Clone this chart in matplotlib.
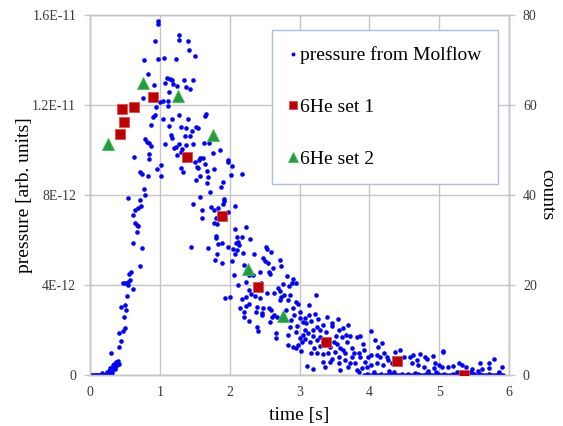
import matplotlib
matplotlib.use("Agg")
import matplotlib.pyplot as plt

plt.rcParams['font.family'] = ['Liberation Serif', 'DejaVu Serif']

# ---- Molflow pressure scatter (time [s], pressure in units of 1e-12) ----
molflow_t = [
    # baseline before rise
    0.00, 0.02, 0.04, 0.06, 0.08, 0.10, 0.12, 0.14, 0.16, 0.18, 0.20, 0.22, 0.24, 0.26, 0.28, 0.30, 0.32,
    # rising edge
    0.17, 0.25, 0.27, 0.28, 0.29, 0.31, 0.32, 0.33, 0.34, 0.36, 0.36, 0.37, 0.38, 0.39, 0.40, 0.41, 0.30,
    0.415, 0.44, 0.415, 0.47, 0.50, 0.48, 0.51, 0.50, 0.44, 0.53, 0.61, 0.55, 0.47, 0.50, 0.54, 0.57,
    0.56, 0.58, 0.716, 0.75, 0.61, 0.67, 0.69, 0.68, 0.645, 0.62, 0.645, 0.69, 0.725, 0.72,
    # peak region
    0.97, 0.97, 1.28, 1.275, 1.41, 0.93, 1.42, 1.50, 0.78, 0.98, 1.06, 1.23, 0.83, 0.92, 1.10, 1.17,
    1.14, 1.35, 1.47, 1.07, 1.19, 1.24, 1.37, 1.43, 1.13, 0.76, 1.00, 1.05, 1.11, 0.95, 1.12, 1.66,
    1.65, 0.93, 0.90, 1.05, 1.17, 1.27, 1.40, 0.87, 1.13, 1.31, 1.37, 1.52, 1.55, 1.46, 1.43, 1.16,
    1.17, 0.79, 0.81, 0.85, 0.87, 1.08, 1.27, 1.23, 1.21, 1.37, 1.32, 1.48, 1.63, 1.71, 1.86, 1.76,
    0.63, 0.85, 0.85, 1.24, 1.50, 1.58, 1.62, 1.56, 1.65, 1.68, 1.77, 1.53, 1.55, 1.98, 1.97, 2.03,
    1.02, 0.96, 1.01, 0.71, 0.74, 0.83, 1.30, 1.33, 1.52, 1.57, 1.69, 1.67, 1.91, 1.87, 2.02, 2.18,
    0.77, 0.79, 0.55, 1.58, 1.72, 1.92, 1.74, 1.36, 1.30,
    # decay region
    1.47, 1.60, 1.73, 1.78, 1.84, 1.91, 1.92, 2.08, 1.97, 1.60, 1.77, 1.82, 1.80, 2.07, 2.11, 2.17,
    2.23, 2.12, 2.09, 2.14, 2.29, 1.45, 1.69, 1.84, 1.89, 1.97, 2.05, 2.08, 2.19, 2.10, 1.82, 1.79,
    1.89, 2.04, 2.35, 2.52, 2.54, 2.59, 2.48, 2.51, 2.62, 2.56, 2.43, 2.06, 2.21, 2.27, 2.34, 2.12,
    2.24, 1.93, 2.00, 2.17, 2.23, 2.30, 2.36, 2.43, 2.15, 2.23, 2.27, 2.39, 2.48, 2.56, 2.59, 2.21,
    2.37, 2.46, 2.47, 2.20, 2.27, 2.39, 2.40, 2.60, 2.63, 2.58, 2.68, 2.67, 2.66,
    1.81, 1.80, 2.45, 2.53, 2.28, 2.55, 2.58, 2.69, 2.64,
    # tail
    2.72, 2.74, 2.82, 2.91, 2.95, 2.85, 2.77, 2.89, 2.72, 2.74, 2.78, 2.72, 2.84, 2.95, 2.98, 2.86,
    2.91, 2.92, 3.01, 3.08, 3.05, 3.13, 3.14, 3.24, 3.17, 3.26, 2.86, 2.95, 3.08, 3.05, 3.01, 3.08,
    3.10, 2.83, 2.84, 2.91, 2.95, 2.98, 3.03, 3.19, 3.25, 3.29, 3.34, 3.20, 3.25, 3.29, 3.21, 3.17,
    3.25, 3.46, 3.47, 3.57, 3.70, 3.61, 3.67, 3.73, 3.83, 3.87, 3.41, 3.49, 3.53, 3.44, 3.58, 3.63,
    3.51, 3.41, 3.34, 3.56, 3.65, 3.11, 3.20, 3.33, 3.43, 3.46, 3.36, 3.57, 3.65, 3.72, 3.75, 3.78,
    3.87, 3.91, 3.58, 3.70, 3.82, 3.85, 3.89, 3.94, 3.97, 3.80, 4.03, 4.08, 4.13, 4.18, 4.02, 4.11,
    4.15, 4.21, 4.25, 4.27, 4.32, 4.20, 4.11, 4.03, 4.37, 4.44, 4.50, 4.58, 4.63, 4.68, 4.73, 4.80,
    4.83, 4.91, 5.05, 5.06, 4.61, 4.70, 4.78, 4.94, 5.00, 5.04, 4.92, 5.13, 5.20, 5.28, 5.32, 5.39,
    5.47, 5.59, 5.71, 5.78, 5.61, 5.72, 5.90,
    2.80, 2.88, 2.97, 3.00, 3.12, 3.15, 3.02, 3.22, 3.30, 3.38, 3.52, 3.40, 3.55, 3.62, 3.68, 3.75,
    3.93, 3.98, 3.85,
    # baseline after decay
    3.92, 3.96, 4.00, 4.05, 4.09, 4.13, 4.17, 4.22, 4.26, 4.30, 4.34, 4.39, 4.43, 4.47, 4.52, 4.56,
    4.60, 4.64, 4.69, 4.73, 4.77, 4.81, 4.86, 4.90, 4.94, 4.98, 5.03, 5.07, 5.11, 5.16, 5.20, 5.24,
    5.28, 5.33, 5.37, 5.41, 5.45, 5.50, 5.54, 5.58, 5.63, 5.67, 5.71, 5.75, 5.80, 5.84, 5.88, 5.92,
    4.07, 4.36, 4.66, 4.96, 5.26, 5.56, 5.86, 4.28, 4.84, 5.46,
]
molflow_p_e12 = [
    0.00, 0.00, 0.00, 0.00, 0.00, 0.00, 0.00, 0.00, 0.00, 0.00, 0.00, 0.00, 0.00, 0.00, 0.00, 0.00, 0.00,
    0.10, 0.15, 0.20, 0.30, 0.22, 0.33, 0.15, 0.44, 0.50, 0.37, 0.28, 0.58, 0.55, 0.45, 0.62, 0.49, 0.99,
    1.26, 1.53, 1.85, 1.96, 2.07, 2.59, 2.89, 3.11, 3.04, 3.51, 3.82, 4.00, 4.07, 4.10, 4.15, 4.22,
    4.49, 4.59, 4.86, 5.63, 5.85, 6.34, 6.62, 6.67, 6.74, 7.11, 7.33, 7.41, 7.51, 7.78,
    15.75, 15.60, 15.10, 14.90, 14.86, 14.86, 14.44, 14.19, 13.99, 14.06, 14.10, 14.06, 13.40, 12.90, 13.20, 13.10,
    13.15, 13.10, 13.10, 12.96, 12.93, 12.84, 12.80, 12.70, 12.60, 12.30, 12.15, 12.18, 12.20, 11.90, 11.96, 11.60,
    11.50, 11.54, 11.45, 11.36, 11.38, 11.54, 11.38, 11.13, 11.07, 11.04, 10.98, 11.02, 11.00, 10.84, 10.64, 10.67,
    10.52, 10.47, 10.37, 10.30, 10.20, 10.25, 10.27, 10.13, 10.07, 10.22, 10.03, 10.25, 10.30, 10.30, 10.00, 9.88,
    9.70, 9.80, 9.59, 9.78, 9.45, 9.66, 9.66, 9.56, 9.38, 9.08, 9.16, 9.26, 9.21, 9.56, 9.45, 9.30,
    9.35, 9.14, 8.86, 9.04, 8.93, 8.84, 9.21, 9.02, 8.67, 8.84, 8.81, 8.52, 8.56, 8.34, 8.89, 8.92,
    8.25, 7.99, 7.87, 7.93, 8.13, 7.82, 10.56, 10.62, 9.93,
    7.60, 7.33, 7.45, 7.33, 7.41, 7.60, 7.75, 7.51, 7.26, 7.00, 6.74, 6.71, 7.00, 6.47, 6.12, 6.12,
    6.59, 5.93, 5.85, 5.78, 6.03, 5.70, 5.63, 5.81, 5.85, 5.70, 5.60, 5.38, 5.41, 5.56, 5.38, 5.11,
    4.96, 5.07, 5.38, 5.70, 5.60, 5.48, 5.19, 5.08, 4.74, 4.59, 4.59, 4.44, 4.89, 4.44, 4.44, 4.00,
    4.15, 3.41, 3.48, 3.36, 3.48, 3.60, 3.51, 3.41, 2.96, 3.07, 3.16, 3.04, 2.96, 3.00, 2.89, 2.81,
    2.81, 2.74, 2.67, 2.59, 2.40, 2.15, 1.96, 2.56, 2.67, 2.37, 2.59, 1.85, 1.63,
    6.18, 6.10, 4.10, 3.66, 3.78, 4.96, 4.50, 3.85, 3.63,
    5.11, 4.84, 4.40, 4.25, 4.10, 3.96, 4.03, 4.07, 3.75, 3.48, 3.56, 3.33, 3.33, 3.26, 3.16, 3.56,
    2.96, 2.67, 2.52, 2.52, 2.37, 2.67, 3.11, 3.56, 2.41, 2.48, 2.15, 1.93, 2.00, 1.78, 1.63, 1.59,
    2.30, 1.78, 1.33, 1.26, 1.19, 1.33, 1.48, 2.00, 2.15, 2.00, 2.22, 1.73, 1.56, 1.29, 1.19, 1.00,
    0.96, 2.33, 2.18, 2.00, 2.22, 1.70, 1.78, 1.73, 1.67, 1.73, 1.56, 1.48, 1.38, 1.26, 1.19, 1.11,
    1.04, 1.00, 0.93, 0.81, 0.96, 0.40, 0.25, 0.59, 0.59, 0.70, 0.37, 0.55, 0.67, 0.52, 0.81, 0.96,
    0.81, 1.38, 0.22, 0.37, 0.22, 0.15, 0.30, 0.59, 0.37, 0.52, 1.97, 1.56, 1.26, 1.41, 0.89, 0.89,
    0.81, 1.00, 0.81, 0.67, 0.52, 0.44, 0.52, 0.44, 1.04, 1.11, 0.81, 0.81, 0.89, 0.67, 0.93, 0.81,
    0.70, 0.84, 1.08, 1.04, 0.52, 0.44, 0.37, 0.52, 0.44, 0.34, 0.30, 0.37, 0.40, 0.52, 0.44, 0.37,
    0.25, 0.52, 0.52, 0.70, 0.25, 0.30, 0.34,
    2.90, 2.45, 2.20, 2.80, 1.85, 1.45, 1.05, 2.70, 1.70, 1.90, 1.75, 2.60, 2.50, 2.10, 1.45, 1.20,
    1.10, 0.80, 1.00,
    0.02, 0.03, 0.00, 0.05, 0.02, 0.00, 0.04, 0.02, 0.00, 0.03, 0.05, 0.00, 0.02, 0.04, 0.00, 0.03,
    0.02, 0.00, 0.04, 0.02, 0.00, 0.03, 0.05, 0.00, 0.02, 0.04, 0.00, 0.03, 0.02, 0.00, 0.04, 0.02,
    0.00, 0.03, 0.05, 0.00, 0.02, 0.04, 0.00, 0.03, 0.02, 0.00, 0.04, 0.02, 0.00, 0.03, 0.02, 0.00,
    0.12, 0.15, 0.10, 0.14, 0.12, 0.16, 0.12, 0.20, 0.18, 0.15,
]

# ---- 6He measurements (time [s], counts) ----
set1_t = [0.425, 0.458, 0.483, 0.635, 0.907, 1.385, 1.895, 2.41, 3.376, 4.39, 5.35]
set1_counts = [53.6, 59.1, 56.2, 59.6, 61.8, 48.4, 35.3, 19.5, 7.4, 3.1, 0.0]
set2_t = [0.258, 0.755, 1.256, 1.757, 2.26, 2.76]
set2_counts = [51.3, 64.8, 62.0, 53.3, 23.5, 13.1]

x_ticks = [0, 1, 2, 3, 4, 5, 6]
p_ticks_e12 = [0, 4, 8, 12, 16]
p_tick_labels = ['0', '4E-12', '8E-12', '1.2E-11', '1.6E-11']
count_ticks = [0, 20, 40, 60, 80]

grid_c = '#c6c6c6'
tick_c = '#3a3a3a'

fig = plt.figure(figsize=(5.63, 4.26), dpi=100)
ax = fig.add_axes([90/563, 51/426, 419/563, 360/426])
ax2 = ax.twinx()

p_vals = [v * 1e-12 for v in molflow_p_e12]
h1, = ax.plot(molflow_t, p_vals, linestyle='none', marker='o', markersize=3.3,
              color='#0000ff', markeredgewidth=0, label='pressure from Molflow', zorder=3)

h2, = ax2.plot(set1_t, set1_counts, linestyle='none', marker='s', markersize=7.5,
               color='#c00000', markeredgecolor='#d85050', markeredgewidth=0.6,
               label='6He set 1', zorder=4)
h3, = ax2.plot(set2_t, set2_counts, linestyle='none', marker='^', markersize=8.5,
               color='#1f9e3a', markeredgecolor='#4cb860', markeredgewidth=0.6,
               label='6He set 2', zorder=4)

ax.set_xlim(0, 6)
ax.set_ylim(0, 16e-12)
ax2.set_ylim(0, 80)
ax.set_xticks(x_ticks)
ax.set_xticklabels([str(v) for v in x_ticks])
ax.set_yticks([v * 1e-12 for v in p_ticks_e12])
ax.set_yticklabels(p_tick_labels)
ax2.set_yticks(count_ticks)
ax2.set_yticklabels([str(v) for v in count_ticks])

ax.grid(True, color=grid_c, linewidth=1.0, zorder=0)
ax.set_axisbelow(True)

for a in (ax, ax2):
    for s in a.spines.values():
        s.set_color(grid_c)
        s.set_linewidth(1.0)

ax.tick_params(axis='y', direction='out', length=4, width=1, color=grid_c,
               labelsize=10, labelcolor=tick_c, pad=6)
ax.tick_params(axis='x', length=0, labelsize=10, labelcolor=tick_c, pad=8)
ax2.tick_params(axis='y', direction='out', length=4, width=1, color=grid_c,
                labelsize=10, labelcolor=tick_c, pad=6)

ax.set_xlabel('time [s]', fontsize=14, labelpad=6)
ax.set_ylabel('pressure [arb. units]', fontsize=14)
ax.yaxis.set_label_coords((33 - 90) / 419, 0.5)
ax2.set_ylabel('counts', fontsize=14, rotation=270, labelpad=13)

leg = ax2.legend(handles=[h1, h2, h3], loc='upper left',
                 bbox_to_anchor=((272 - 90) / 419, (375 - 30) / 360),
                 borderaxespad=0, fontsize=14, frameon=True, fancybox=False,
                 edgecolor='#a9c1de', framealpha=1, handlelength=0.5,
                 handletextpad=0.1, labelspacing=1.75, borderpad=0.85,
                 markerscale=0.85)
leg.get_frame().set_linewidth(1.0)
leg.set_zorder(10)

fig.savefig('out.png', dpi=100, facecolor='white')
